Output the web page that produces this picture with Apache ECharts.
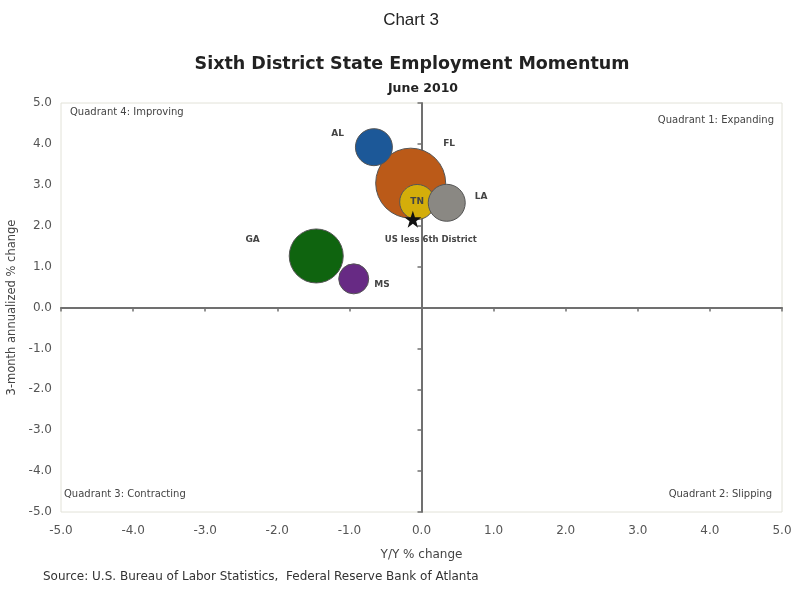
<!DOCTYPE html>
<html><head><meta charset="utf-8">
<script src="https://cdn.jsdelivr.net/npm/echarts@6/dist/echarts.min.js"></script>
<style>html,body{margin:0;padding:0;background:#fff}#c{width:794px;height:590px}</style>
</head><body><div id="c"></div>
<script>
// ---- data ----
var states = ['FL', 'TN', 'LA', 'AL', 'GA', 'MS'];
var yoyChange = [-0.15, -0.06, 0.35, -0.66, -1.46, -0.94];      // x: Y/Y % change
var threeMonth = [3.04, 2.58, 2.56, 3.92, 1.26, 0.70];           // y: 3-month annualized % change
var bubbleSize = [70, 35, 37, 37, 54, 30];                        // relative bubble diameter
var benchmarkName = ['US less 6th District'];
var benchmarkX = [-0.12];
var benchmarkY = [2.16];
var xTicks = [-5, -4, -3, -2, -1, 0, 1, 2, 3, 4, 5];
var yTicks = [-5, -4, -3, -2, -1, 0, 1, 2, 3, 4, 5];

// ---- styles ----
var colorMap = {FL:'#bb5a18', TN:'#d4ae0a', LA:'#8a8883', AL:'#1c5898', GA:'#0f640f', MS:'#672a84'};
var labelPos = {
  FL:{position:'right', offset:[-8,-40]},
  TN:{position:'inside', offset:[0,0]},
  LA:{position:'right', offset:[4,-6]},
  AL:{position:'left', offset:[-6,-14]},
  GA:{position:'left', offset:[-24,-16]},
  MS:{position:'right', offset:[0,6]}
};
var font = 'DejaVu Sans';

var bubbleData = states.map(function(s, i){
  var lp = labelPos[s];
  return {
    name: s,
    value: [yoyChange[i], threeMonth[i], bubbleSize[i]],
    itemStyle: {color: colorMap[s], borderColor: '#555', borderWidth: 1, opacity: 1},
    label: {show: true, formatter: s, position: lp.position, offset: lp.offset,
      color: '#444', fontSize: 9, fontWeight: 'bold', fontFamily: font}
  };
});
var starData = benchmarkName.map(function(n, i){ return {name:n, value:[benchmarkX[i], benchmarkY[i]]}; });

var starPath = 'path://M50,0 L61.8,35.1 L98.1,35.1 L68.8,56.8 L79.4,91.9 L50,70.5 L20.6,91.9 L31.2,56.8 L1.9,35.1 L38.2,35.1 Z';

var chart = echarts.init(document.getElementById('c'), null, {renderer:'canvas'});
var axisLabelStyle = {color:'#555', fontSize: 12, fontFamily: font};
chart.setOption({
  animation: false,
  backgroundColor: '#fff',
  title: [
    {text:'Chart 3', left:406, textAlign:'center', top:7, textStyle:{fontFamily:'Liberation Sans', fontSize:17, fontWeight:'normal', color:'#222'}},
    {text:'Sixth District State Employment Momentum', left:407, textAlign:'center', top:50, textStyle:{fontFamily:font, fontSize:17.5, fontWeight:'bold', color:'#222'}},
    {text:'June 2010', left:418, textAlign:'center', top:77, textStyle:{fontFamily:font, fontSize:12.5, fontWeight:'bold', color:'#222'}}
  ],
  grid: {left:61, right:12, top:103, bottom:78, outerBoundsMode:'none', containLabel:false, show:true, borderColor:'#e2e2d8', borderWidth:1, backgroundColor:'#fff'},
  xAxis: [
    {type:'value', min:-5, max:5, interval:1, position:'bottom',
      axisLine:{show:false, onZero:false}, axisTick:{show:false}, splitLine:{show:false},
      axisLabel:Object.assign({show:true, margin:13, formatter:function(v){return v.toFixed(1);}, customValues: xTicks}, axisLabelStyle),
      name:'Y/Y % change', nameLocation:'middle', nameGap:37, nameTextStyle:{color:'#444', fontSize:12, fontFamily:font}},
    {type:'value', min:-5, max:5, interval:1, position:'top',
      axisLine:{show:true, onZero:true, onZeroAxisIndex:0, lineStyle:{color:'#707070', width:2}},
      axisTick:{show:true, inside:true, length:4, lineStyle:{color:'#707070', width:1.5}},
      axisLabel:{show:false}, splitLine:{show:false}}
  ],
  yAxis: [
    {type:'value', min:-5, max:5, interval:1, position:'left',
      axisLine:{show:false, onZero:false}, axisTick:{show:false}, splitLine:{show:false},
      axisLabel:Object.assign({show:true, margin:9, formatter:function(v){return v.toFixed(1);}, customValues: yTicks}, axisLabelStyle),
      name:'3-month annualized % change', nameLocation:'middle', nameGap:33, nameRotate:90, nameTextStyle:{color:'#444', fontSize:11.5, fontFamily:font}},
    {type:'value', min:-5, max:5, interval:1, position:'right',
      axisLine:{show:true, onZero:true, onZeroAxisIndex:0, lineStyle:{color:'#707070', width:2}},
      axisTick:{show:true, inside:true, length:4, lineStyle:{color:'#707070', width:1.5}},
      axisLabel:{show:false}, splitLine:{show:false}}
  ],
  series: [
    {type:'scatter', xAxisIndex:0, yAxisIndex:0, data: bubbleData,
      symbolSize: function(v){ return v[2]; }, itemStyle:{opacity:1}, z: 3},
    {type:'scatter', xAxisIndex:0, yAxisIndex:0, data: starData, symbol: starPath, symbolSize: 17,
      itemStyle:{color:'#111', opacity:1}, z: 4,
      label:{show:true, formatter:'{b}', position:'bottom', offset:[18,3], color:'#444', fontSize:8.5, fontWeight:'bold', fontFamily:font}}
  ],
  graphic: [
    {type:'text', left:70, top:107, style:{text:'Quadrant 4: Improving', fill:'#444', font:'10px "DejaVu Sans"'}},
    {type:'text', right:20, top:115, style:{text:'Quadrant 1: Expanding', fill:'#444', font:'10px "DejaVu Sans"'}},
    {type:'text', left:64, top:489, style:{text:'Quadrant 3: Contracting', fill:'#444', font:'10px "DejaVu Sans"'}},
    {type:'text', right:22, top:489, style:{text:'Quadrant 2: Slipping', fill:'#444', font:'10px "DejaVu Sans"'}},
    {type:'text', left:43, top:571, style:{text:'Source: U.S. Bureau of Labor Statistics,  Federal Reserve Bank of Atlanta', fill:'#333', font:'12px "DejaVu Sans"'}}
  ]
});
</script></body></html>
